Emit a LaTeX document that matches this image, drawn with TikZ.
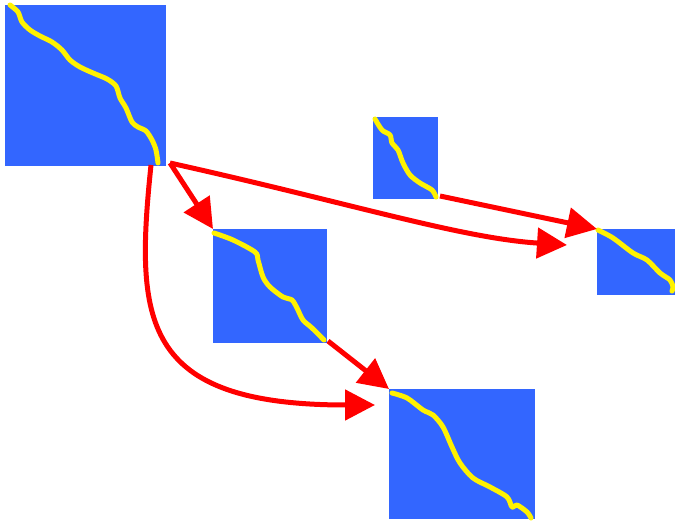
\documentclass[tikz,border=0pt]{standalone}
\usetikzlibrary{arrows.meta}
\definecolor{matblue}{RGB}{51,102,255}
\tikzset{
  mat/.style={fill=matblue, draw=none, inner sep=0pt, outer sep=0pt, anchor=north west},
  trace/.style={draw=yellow, line width=5pt, line cap=round, line join=round},
  link/.style={draw=red, line width=5pt, -{Triangle[length=30pt,width=30pt]}}
}
\begin{document}
\begin{tikzpicture}[x=1pt, y=-1pt]
\useasboundingbox (0,0) rectangle (675,524);
\node[mat, minimum width=161pt, minimum height=161pt] (M_0) at (5,5) {};
\node[mat, minimum width=65pt, minimum height=82pt] (M_1) at (373,117) {};
\node[mat, minimum width=78pt, minimum height=66pt] (M_2) at (597,229) {};
\node[mat, minimum width=114pt, minimum height=114pt] (M_3) at (213,229) {};
\node[mat, minimum width=146pt, minimum height=130pt] (M_4) at (389,389) {};
\draw[trace] plot[smooth] coordinates {(10,5) (18,12) (22,22) (30,30) (40,36) (52,42) (62,50) (70,60) (80,67) (93,73) (107,79) (116,86) (120,98) (126,108) (132,122) (138,127) (146,131) (152,140) (156,150) (158,163)};
\draw[trace] plot[smooth] coordinates {(375,119) (382,130) (390,135) (392,143) (398,150) (403,163) (410,175) (420,183) (432,190) (436,197)};
\draw[trace] plot[smooth] coordinates {(598,230) (613,238) (633,253) (647,260) (660,273) (670,280) (673,287) (672,291)};
\draw[trace] plot[smooth] coordinates {(214,233) (233,240) (255,252) (258,260) (263,277) (270,287) (283,297) (292,300) (297,308) (303,320) (312,328) (324,340)};
\draw[trace] plot[smooth] coordinates {(392,393) (407,398) (423,410) (433,415) (443,427) (452,447) (460,463) (473,478) (490,487) (507,497) (512,507) (517,505) (527,512) (531,518)};
% arrow ends
\coordinate (M_0_out) at (170,163);
\coordinate (M_0_low) at (151,165);
\coordinate (T_0) at (567,245);
\coordinate (T_1) at (375,405);
\draw[link] (M_0_out) -- (M_3.north west);
\draw[link] (M_0_out) .. controls (350,203) and (460,238) .. (T_0);
\draw[link] ([shift={(2,-3)}]M_1.south east) -- (M_2.north west);
\draw[link] (M_0_low) .. controls (135,320) and (140,405) .. (T_1);
\draw[link] ([shift={(1,-2)}]M_3.south east) -- (M_4.north west);
\end{tikzpicture}
\end{document}
